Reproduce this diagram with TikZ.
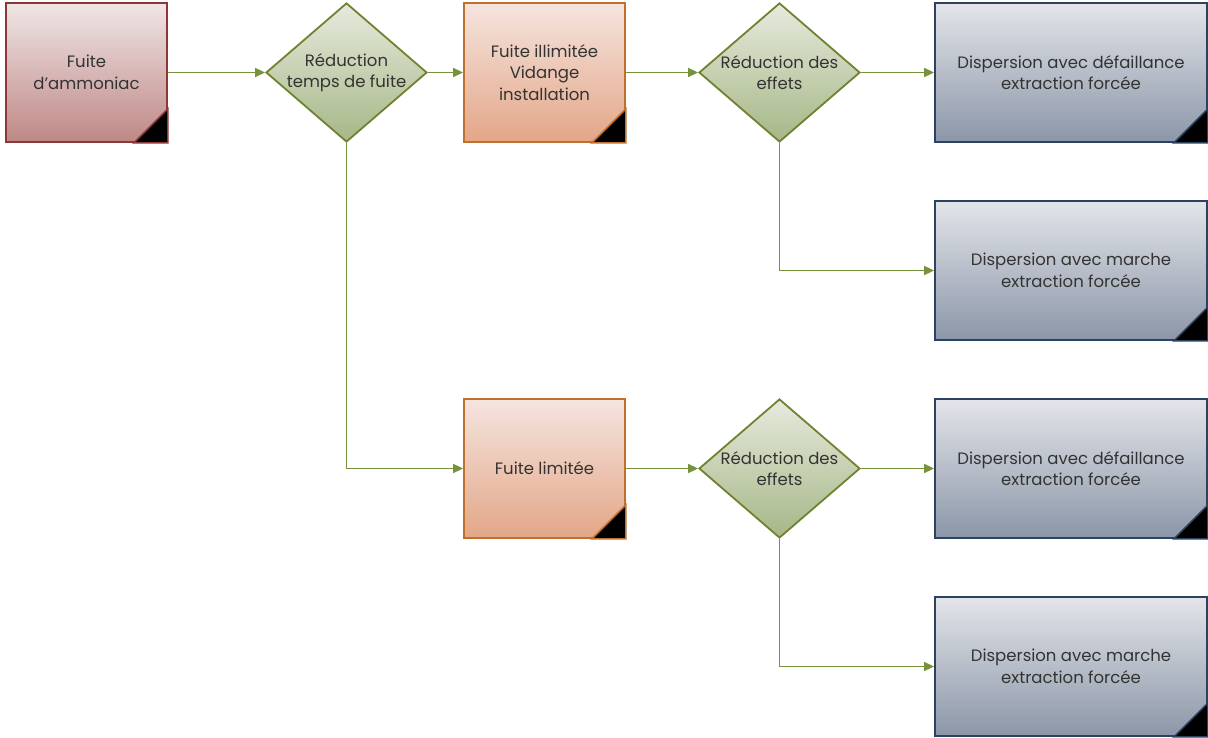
\documentclass[tikz,border=0pt]{standalone}
\usepackage{fontspec}
\setmainfont{Poppins}
\usepackage{tikz}
\usetikzlibrary{arrows,arrows.meta,shapes,positioning,fit}
\definecolor{flowgreen}{HTML}{76923C}
\definecolor{redline}{HTML}{8C3836}
\definecolor{orangeline}{HTML}{C0702E}
\definecolor{diamline}{HTML}{6E8230}
\definecolor{blueline}{HTML}{2B4260}
\definecolor{txtgray}{HTML}{333333}
\newcommand{\coin}[2]{\filldraw[draw=#2,fill=black,line width=1.5pt]
  ([xshift=-34pt]#1.south east) -- (#1.south east) -- ([yshift=34pt]#1.south east) -- cycle;}

\begin{document}
\begin{tikzpicture}[x=1pt,y=1pt,
    every node/.style={font=\fontsize{16.5}{21.5}\selectfont,text=txtgray,align=center},
    box/.style={rectangle,line width=1.8pt,minimum width=161pt,minimum height=139pt,inner sep=0pt},
    fuitebox/.style={box,draw=redline,top color=red!4!white!94!black,bottom color={rgb,255:red,190;green,136;blue,134}},
    orbox/.style={box,draw=orangeline,top color={rgb,255:red,245;green,229;blue,223},bottom color={rgb,255:red,227;green,166;blue,135}},
    dispbox/.style={box,minimum width=272pt,draw=blueline,top color={rgb,255:red,227;green,229;blue,233},bottom color={rgb,255:red,139;green,150;blue,168}},
    decision/.style={diamond,line width=1.8pt,draw=diamline,minimum width=161pt,minimum height=139pt,inner sep=0pt,
      top color={rgb,255:red,230;green,234;blue,221},bottom color={rgb,255:red,166;green,183;blue,135}},
    flow/.style={draw=flowgreen,line width=1.6pt,-{Triangle[length=10pt,width=9pt]}}]
  \useasboundingbox (0,0) rectangle (1208,-738);

  \node[fuitebox] (fuite) at (86.5,-72.5) {Fuite\\d'ammoniac};
  \coin{fuite}{redline}

  \node[decision] (reduc) at (346.5,-72.5) {};
  \node (reductxt) at (reduc) {Réduction\\temps de fuite};

  \node[orbox] (illim) at (544.5,-72.5) {Fuite illimitée\\Vidange\\installation};
  \coin{illim}{orangeline}
  \node[orbox] (limit) at (544.5,-468.5) {Fuite limitée};
  \coin{limit}{orangeline}

  \node[decision] (effa) at (779.5,-72.5) {};
  \node (effatxt) at (effa) {Réduction des\\effets};
  \node[decision] (effb) at (779.5,-468.5) {};
  \node (effbtxt) at (effb) {Réduction des\\effets};

  \node[dispbox] (dispa) at (1071,-72.5) {Dispersion avec défaillance\\extraction forcée};
  \coin{dispa}{blueline}
  \node[dispbox] (dispb) at (1071,-270.5) {Dispersion avec marche\\extraction forcée};
  \coin{dispb}{blueline}
  \node[dispbox] (dispc) at (1071,-468.5) {Dispersion avec défaillance\\extraction forcée};
  \coin{dispc}{blueline}
  \node[dispbox] (dispd) at (1071,-666.5) {Dispersion avec marche\\extraction forcée};
  \coin{dispd}{blueline}

  \draw[flow] (fuite) -- (reduc);
  \draw[flow] (reduc) -- (illim);
  \draw[flow] (illim) -- (effa);
  \draw[flow] (effa) -- (dispa);
  \draw[flow] (effa.south) |- (dispb);
  \draw[flow] (reduc.south) |- (limit);
  \draw[flow] (limit) -- (effb);
  \draw[flow] (effb) -- (dispc);
  \draw[flow] (effb.south) |- (dispd);
\end{tikzpicture}
\end{document}
